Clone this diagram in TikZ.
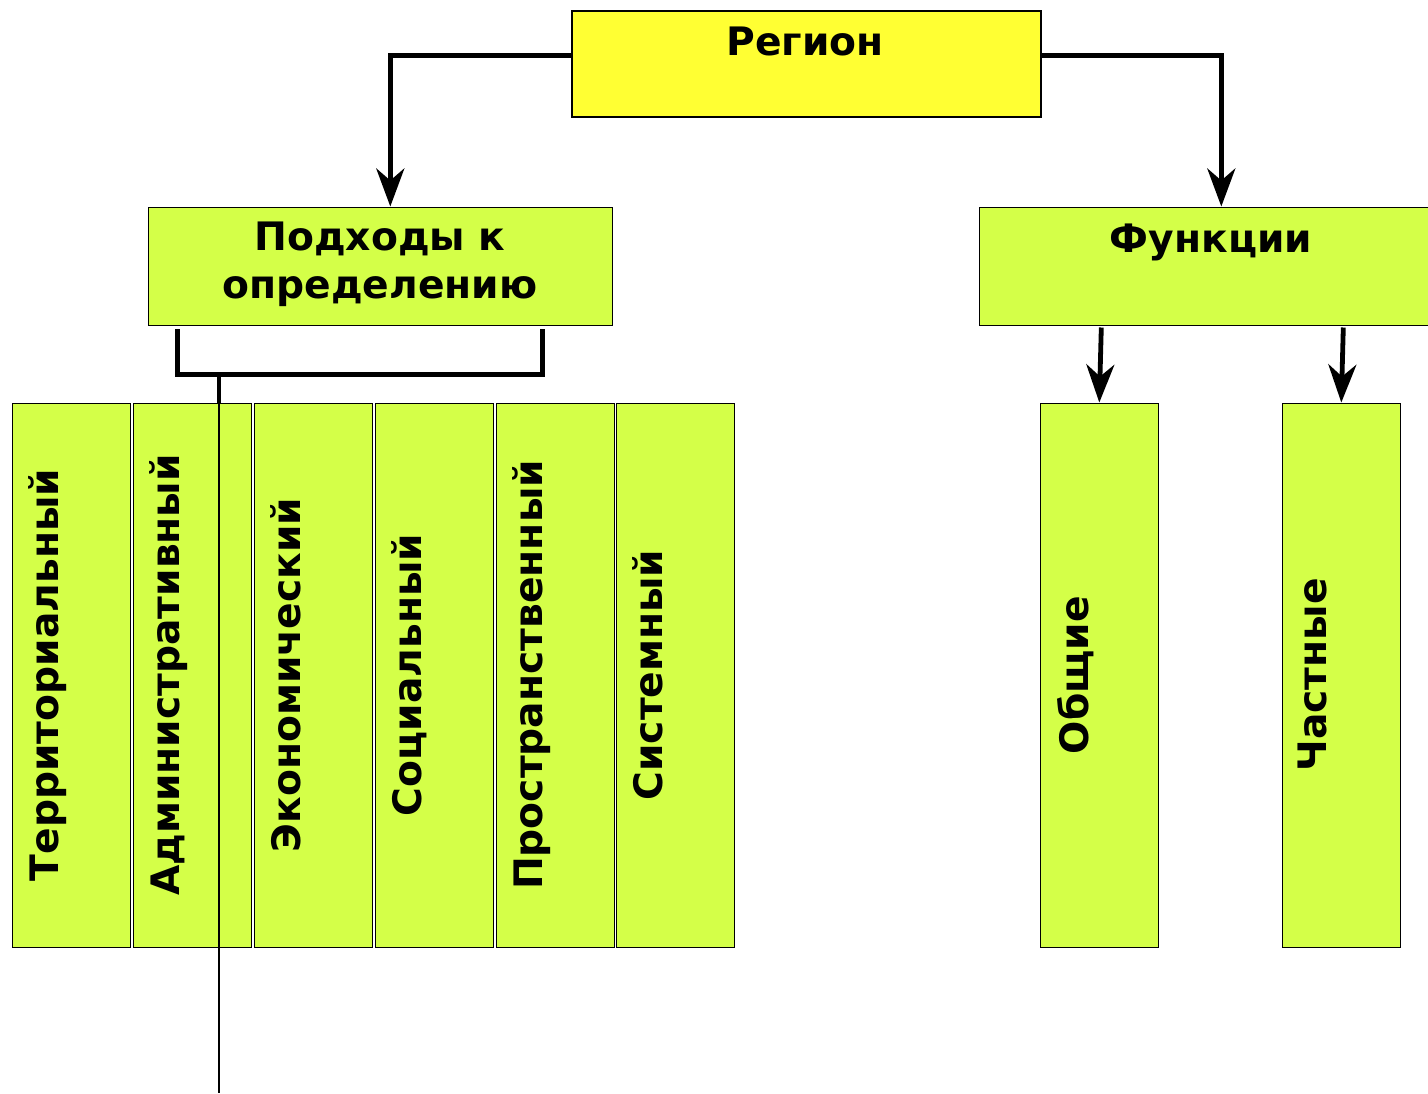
\documentclass[tikz,border=0pt]{standalone}
\usepackage{fontspec}
\setmainfont{DejaVu Sans}
\usetikzlibrary{arrows.meta}
\definecolor{regyellow}{RGB}{255,255,51}
\definecolor{boxgreen}{RGB}{212,255,72}

\begin{document}
\begin{tikzpicture}[x=0.5pt,y=0.5pt,
    box/.style={rectangle, draw, fill=boxgreen, line width=0.8pt, inner sep=0pt, anchor=north west},
    title/.style={font=\fontsize{19.6}{24}\selectfont\bfseries, align=center, inner sep=0pt, anchor=north},
    vert/.style={font=\fontsize{19.6}{24}\selectfont\bfseries, rotate=90, inner sep=0pt, anchor=north},
    link/.style={line width=2.4pt},
    >={Stealth[length=19pt,width=14pt,inset=6pt]}]
    \useasboundingbox (0,0) rectangle (1428,-1093);
    \node[box, fill=regyellow, line width=1pt, minimum width=234.5pt, minimum height=53pt] (reg) at (570.5,-9.5) {};
    \node[title] (regt) at (805,-27) {Регион};
    \node[box, minimum width=232pt, minimum height=59pt] (appr) at (147.5,-206.5) {};
    \node[title] (apprt) at (380,-222) {Подходы к\\определению};
    \node[box, minimum width=232pt, minimum height=59pt] (func) at (978.5,-206.5) {};
    \node[title] (funct) at (1211,-224) {Функции};
    \draw[link,->] ([yshift=4pt]reg.west) -| ([xshift=5pt]appr.north);
    \draw[link,->] ([yshift=4pt]reg.east) -| ([xshift=5pt]func.north);

    \node[box, minimum width=59pt, minimum height=272pt] (terr) at (11.5,-402.5) {};
    \node[vert] at (28,-675) {Территориальный};
    \node[box, minimum width=59pt, minimum height=272pt] (adm) at (132.5,-402.5) {};
    \node[vert] at (149,-675) {Административный};
    \node[box, minimum width=59pt, minimum height=272pt] (econ) at (253.5,-402.5) {};
    \node[vert] at (270,-675) {Экономический};
    \node[box, minimum width=59pt, minimum height=272pt] (soc) at (374.5,-402.5) {};
    \node[vert] at (391,-675) {Социальный};
    \node[box, minimum width=59pt, minimum height=272pt] (spat) at (495.5,-402.5) {};
    \node[vert] at (512,-675) {Пространственный};
    \node[box, minimum width=59pt, minimum height=272pt] (sys) at (615.5,-402.5) {};
    \node[vert] at (632,-675) {Системный};
    \draw[link] ([xshift=15pt,yshift=-1.5pt]appr.south west) -- ++(0,-22.5pt) -| ([xshift=-35.5pt,yshift=-1.5pt]appr.south east);
    \coordinate (brk) at (219,-373);
    \coordinate (tail) at (219,-1093);
    \draw[link] (brk) -- (brk |- adm.north);
    \draw[line width=1.1pt] (brk |- adm.north) -- (tail);

    \node[box, minimum width=59pt, minimum height=272pt] (gen) at (1039.5,-402.5) {};
    \node[vert] at (1057,-675) {Общие};
    \node[box, minimum width=59pt, minimum height=272pt] (part) at (1281.5,-402.5) {};
    \node[vert] at (1298,-675) {Частные};
    \draw[link,<-] (gen.north) -- ++(1pt,37.5pt);
    \draw[link,<-] (part.north) -- ++(1pt,37.5pt);
\end{tikzpicture}
\end{document}
